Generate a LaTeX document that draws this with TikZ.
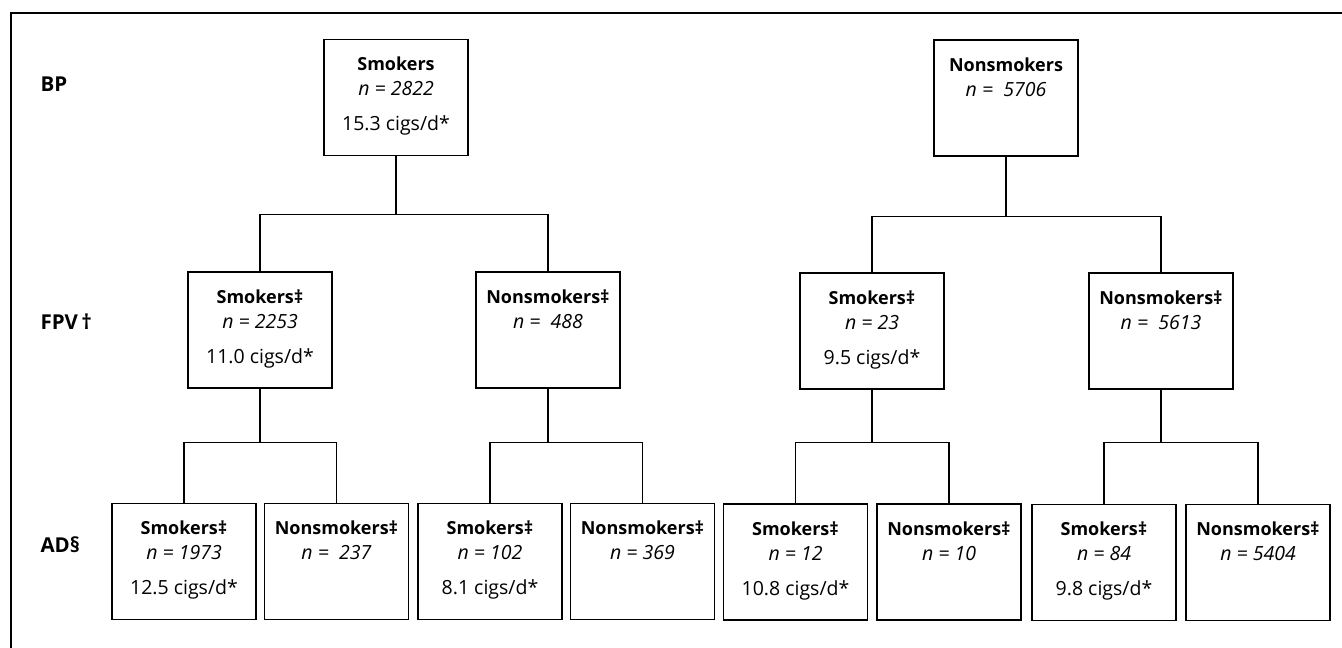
\documentclass[tikz,border=0pt]{standalone}
\usepackage{fontspec}
\setmainfont{Open Sans}
\newcommand{\grphead}[1]{{\fontsize{18}{22}\selectfont\bfseries #1}}
\tikzset{
  grp/.style={draw, line width=1.6pt, minimum width=144pt, minimum height=116pt, align=center, inner sep=0pt, font=\fontsize{19.5}{23}\selectfont},
  lvl/.style={anchor=west, font=\fontsize{20.5}{24}\selectfont\bfseries},
  link/.style={line width=1.3pt}
}
\begin{document}
\begin{tikzpicture}[x=1pt, y=-1pt]
\useasboundingbox (0,0) rectangle (1342,648);
\draw[link] (11,648) -- (11,13) -- (1342,13);
\node[lvl] (lbp) at (37,84) {BP};
\node[lvl] (lfpv) at (37,322) {FPV\,†};
\node[lvl] (lad) at (37,545) {AD§};
\node[grp] (bs) at (396,97.5) {\grphead{Smokers}\\[2pt]\textit{n = 2822}\\[12pt]15.3 cigs/d*\strut};
\node[grp] (bn) at (1006,98) {\grphead{Nonsmokers}\\[2pt]\textit{n =\ \ 5706}\\[12pt]\strut};
\node[grp] (f1) at (260,330) {\grphead{Smokers‡}\\[2pt]\textit{n = 2253}\\[12pt]11.0 cigs/d*\strut};
\node[grp] (f2) at (548,330) {\grphead{Nonsmokers‡}\\[2pt]\textit{n =\ \ 488}\\[12pt]\strut};
\node[grp] (f3) at (872,331) {\grphead{Smokers‡}\\[2pt]\textit{n = 23}\\[12pt]9.5 cigs/d*\strut};
\node[grp] (f4) at (1161,331) {\grphead{Nonsmokers‡}\\[2pt]\textit{n =\ \ 5613}\\[12pt]\strut};
\draw[link] (bs.south) -- ++(0,58) -| (f1.north);
\draw[link] (bs.south) ++(0,58) -| (f2.north);
\draw[link] (bn.south) -- ++(0,60) -| (f3.north);
\draw[link] (bn.south) ++(0,60) -| (f4.north);
\node[grp] (a1) at (184,561.5) {\grphead{Smokers‡}\\[2pt]\textit{n = 1973}\\[12pt]12.5 cigs/d*\strut};
\node[grp] (a2) at (336.5,561.5) {\grphead{Nonsmokers‡}\\[2pt]\textit{n =\ \ 237}\\[12pt]\strut};
\node[grp] (a3) at (490,561.5) {\grphead{Smokers‡}\\[2pt]\textit{n = 102}\\[12pt]8.1 cigs/d*\strut};
\node[grp] (a4) at (642.5,561.5) {\grphead{Nonsmokers‡}\\[2pt]\textit{n = 369}\\[12pt]\strut};
\node[grp] (a5) at (795.5,562) {\grphead{Smokers‡}\\[2pt]\textit{n = 12}\\[12pt]10.8 cigs/d*\strut};
\node[grp] (a6) at (949,562) {\grphead{Nonsmokers‡}\\[2pt]\textit{n = 10}\\[12pt]\strut};
\node[grp] (a7) at (1104,562.5) {\grphead{Smokers‡}\\[2pt]\textit{n = 84}\\[12pt]9.8 cigs/d*\strut};
\node[grp] (a8) at (1258,562.5) {\grphead{Nonsmokers‡}\\[2pt]\textit{n = 5404}\\[12pt]\strut};
\draw[link] (f1.south) -- ++(0,54) -| (a1.north);
\draw[link] (f1.south) ++(0,54) -| (a2.north);
\draw[link] (f2.south) -- ++(0,54) -| (a3.north);
\draw[link] (f2.south) ++(0,54) -| (a4.north);
\draw[link] (f3.south) -- ++(0,53) -| (a5.north);
\draw[link] (f3.south) ++(0,53) -| (a6.north);
\draw[link] (f4.south) -- ++(0,53) -| (a7.north);
\draw[link] (f4.south) ++(0,53) -| (a8.north);
\end{tikzpicture}
\end{document}
